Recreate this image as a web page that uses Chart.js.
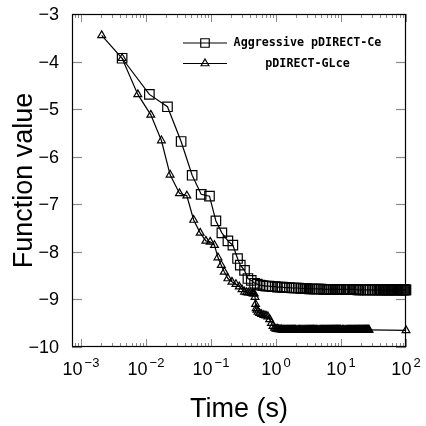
<!DOCTYPE html>
<html>
<head>
<meta charset="utf-8">
<script src="https://cdn.jsdelivr.net/npm/chart.js@4/dist/chart.umd.min.js"></script>
<style>
    html, body { margin: 0; padding: 0; background: #fff; }
    #wrap { width: 426px; height: 426px; }
</style>
</head>
<body>
<div id="wrap"><canvas id="perfChart" width="426" height="426"></canvas></div>
<script>
// Aggressive pDIRECT-Ce (squares)
const aggrTime = [
    0.00429, 0.01127, 0.0214, 0.0347, 0.0513, 0.0706, 0.0948, 0.119, 0.147, 0.182,
    0.217, 0.256, 0.282, 0.328, 0.370, 0.416, 0.468, 0.515, 0.57, 0.63,
    0.70, 0.78, 0.87, 0.97, 1.05, 1.15, 1.25, 1.35, 1.45, 1.6,
    1.75, 1.9, 2.05, 2.2, 2.4, 2.6, 2.8, 3.0, 3.25, 3.5,
    3.75, 4.0, 4.3, 4.6, 5.0, 5.4, 5.8, 6.2, 6.6, 7.0,
    7.5, 8.0, 8.5, 9.0, 9.5, 10, 11, 12, 13, 14,
    15, 16, 17, 18, 19, 20, 22, 24, 26, 28,
    30, 32, 34, 36, 38, 40, 42, 44, 46, 48,
    50, 52, 54, 56, 58, 60, 63, 66, 69, 72,
    75, 78, 81, 84, 87, 90, 93, 96, 98, 100
];
const aggrValue = [
    -3.93, -4.69, -4.95, -5.68, -6.39, -6.79, -6.83, -7.35, -7.60, -7.77,
    -7.86, -8.14, -8.28, -8.39, -8.56, -8.60, -8.66, -8.68, -8.70, -8.71,
    -8.72, -8.72, -8.73, -8.73, -8.74, -8.74, -8.74, -8.75, -8.75, -8.75,
    -8.76, -8.76, -8.76, -8.76, -8.77, -8.77, -8.77, -8.77, -8.78, -8.78,
    -8.78, -8.78, -8.78, -8.78, -8.78, -8.79, -8.79, -8.79, -8.79, -8.79,
    -8.79, -8.79, -8.79, -8.79, -8.79, -8.79, -8.79, -8.79, -8.79, -8.79,
    -8.79, -8.79, -8.79, -8.80, -8.80, -8.80, -8.80, -8.80, -8.80, -8.80,
    -8.80, -8.80, -8.80, -8.80, -8.80, -8.80, -8.80, -8.80, -8.80, -8.80,
    -8.80, -8.80, -8.80, -8.80, -8.80, -8.80, -8.80, -8.80, -8.80, -8.80,
    -8.80, -8.80, -8.80, -8.80, -8.80, -8.80, -8.80, -8.80, -8.80, -8.80
];

// pDIRECT-GLce (triangles)
const glceTime = [
    0.00208, 0.00429, 0.00748, 0.01186, 0.01727, 0.0235, 0.0327, 0.0425, 0.0541, 0.0682,
    0.0834, 0.0972, 0.113, 0.128, 0.144, 0.160, 0.182, 0.210, 0.242, 0.272,
    0.300, 0.328, 0.354, 0.378, 0.403, 0.427, 0.445, 0.463, 0.475, 0.485,
    0.495, 0.51, 0.53, 0.56, 0.60, 0.65, 0.70, 0.75, 0.80, 0.85,
    0.90, 0.95, 1.0, 1.05, 1.1, 1.15, 1.2, 1.25, 1.3, 1.35,
    1.4, 1.45, 1.5, 1.55, 1.6, 1.65, 1.7, 1.75, 1.8, 1.85,
    1.9, 1.95, 2.0, 2.1, 2.2, 2.3, 2.4, 2.5, 2.6, 2.7,
    2.8, 2.9, 3.0, 3.1, 3.2, 3.3, 3.4, 3.5, 3.6, 3.7,
    3.8, 3.9, 4.0, 4.2, 4.4, 4.6, 4.8, 5.0, 5.2, 5.4,
    5.6, 5.8, 6.0, 6.2, 6.4, 6.6, 6.8, 7.0, 7.2, 7.4,
    7.6, 7.8, 8.0, 8.2, 8.4, 8.6, 8.8, 9.0, 9.2, 9.4,
    9.6, 9.8, 10, 10.5, 11, 11.5, 12, 12.5, 13, 13.5,
    14, 14.5, 15, 15.5, 16, 16.5, 17, 17.5, 18, 18.5,
    19, 19.5, 20, 20.5, 21, 21.5, 22, 22.5, 23, 23.5,
    24, 24.5, 25, 25.5, 26, 26.5, 27, 100
];
const glceValue = [
    -3.45, -3.93, -4.69, -5.12, -5.66, -6.38, -6.77, -6.82, -7.33, -7.60,
    -7.77, -7.79, -7.86, -8.12, -8.28, -8.42, -8.56, -8.63, -8.68, -8.73,
    -8.79, -8.84, -8.85, -8.86, -8.86, -8.87, -8.88, -8.88, -8.95, -9.10,
    -9.19, -9.22, -9.26, -9.29, -9.31, -9.33, -9.34, -9.36, -9.42, -9.50,
    -9.56, -9.60, -9.62, -9.62, -9.63, -9.63, -9.63, -9.64, -9.64, -9.64,
    -9.64, -9.64, -9.64, -9.64, -9.64, -9.64, -9.64, -9.64, -9.64, -9.64,
    -9.64, -9.64, -9.64, -9.64, -9.64, -9.64, -9.64, -9.64, -9.64, -9.64,
    -9.64, -9.64, -9.64, -9.64, -9.64, -9.64, -9.64, -9.64, -9.64, -9.64,
    -9.64, -9.64, -9.64, -9.64, -9.64, -9.64, -9.64, -9.64, -9.64, -9.64,
    -9.64, -9.64, -9.64, -9.64, -9.64, -9.64, -9.64, -9.64, -9.64, -9.64,
    -9.64, -9.64, -9.64, -9.64, -9.64, -9.64, -9.64, -9.64, -9.64, -9.64,
    -9.64, -9.64, -9.64, -9.64, -9.64, -9.64, -9.64, -9.64, -9.64, -9.64,
    -9.64, -9.64, -9.64, -9.64, -9.64, -9.64, -9.64, -9.64, -9.64, -9.64,
    -9.64, -9.64, -9.64, -9.64, -9.64, -9.64, -9.64, -9.64, -9.64, -9.64,
    -9.64, -9.64, -9.64, -9.64, -9.64, -9.64, -9.64, -9.65
];

const seriesNames = ['Aggressive pDIRECT-Ce', 'pDIRECT-GLce'];
const xTickValues = [1e-3, 1e-2, 1e-1, 1e0, 1e1, 1e2];
const xTickExps = ['\u22123', '\u22122', '\u22121', '0', '1', '2'];
const yTickValues = [-3, -4, -5, -6, -7, -8, -9, -10];

(function() {
    'use strict';

    const SANS = '"Liberation Sans", Arial, sans-serif';
    const MONO = '"DejaVu Sans Mono", monospace';
    const TICK_GRAY = '#8a8a8a';

    function toPoints(xs, ys) {
        return xs.map((t, i) => ({ x: t, y: ys[i] }));
    }

    function seg(ctx, x1, y1, x2, y2) {
        ctx.beginPath();
        ctx.moveTo(x1, y1);
        ctx.lineTo(x2, y2);
        ctx.stroke();
    }

    function drawMarker(ctx, style, radius, x, y) {
        ctx.strokeStyle = '#000';
        ctx.fillStyle = 'rgba(0,0,0,0)';
        ctx.lineWidth = 1.2;
        Chart.helpers.drawPoint(ctx, { pointStyle: style, radius: radius, rotation: 0, borderWidth: 1.2 }, x, y);
    }

    const framePlugin = {
        id: 'frame',
        afterDraw(chart) {
            const { ctx, chartArea: a, scales } = chart;
            const xs = scales.x, ys = scales.y;
            ctx.save();

            // y ticks, both sides, inside
            ctx.strokeStyle = TICK_GRAY;
            ctx.lineWidth = 1.2;
            yTickValues.forEach(v => {
                const py = Math.round(ys.getPixelForValue(v)) + 0.5;
                seg(ctx, a.left, py, a.left + 10, py);
                seg(ctx, a.right - 10, py, a.right, py);
            });

            // log x ticks, top and bottom
            ctx.lineWidth = 1;
            for (let k = -4; k <= 2; k++) {
                for (let m = 1; m <= 9; m++) {
                    const v = m * Math.pow(10, k);
                    if (v < xs.min * 0.999 || v > xs.max * 1.001) continue;
                    const px = Math.round(xs.getPixelForValue(v)) + 0.5;
                    const len = m === 1 ? 8 : 4;
                    seg(ctx, px, a.bottom, px, a.bottom - len);
                    seg(ctx, px, a.top, px, a.top + len);
                }
            }

            // frame
            ctx.strokeStyle = '#000';
            ctx.lineWidth = 1.2;
            ctx.strokeRect(a.left + 0.5, a.top + 0.5, a.right - a.left - 1, a.bottom - a.top - 1);

            // y tick labels
            ctx.fillStyle = '#000';
            ctx.font = '18px ' + SANS;
            ctx.textAlign = 'right';
            ctx.textBaseline = 'middle';
            yTickValues.forEach(v => {
                ctx.fillText('\u2212' + Math.abs(v), 59, ys.getPixelForValue(v) + 1);
            });

            // x tick labels: 10 with superscript
            ctx.textAlign = 'left';
            ctx.textBaseline = 'alphabetic';
            xTickValues.forEach((v, i) => {
                ctx.font = '18px ' + SANS;
                const w1 = ctx.measureText('10').width;
                ctx.font = '13px ' + SANS;
                const w2 = ctx.measureText(xTickExps[i]).width;
                const start = xs.getPixelForValue(v) - (w1 + 2 + w2) / 2;
                ctx.font = '18px ' + SANS;
                ctx.fillText('10', start, 375);
                ctx.font = '13px ' + SANS;
                ctx.fillText(xTickExps[i], start + w1 + 2, 367);
            });

            // axis titles
            ctx.font = '27px ' + SANS;
            ctx.textAlign = 'center';
            ctx.fillText('Time (s)', (a.left + a.right) / 2, 417);
            ctx.save();
            ctx.translate(32, (a.top + a.bottom) / 2);
            ctx.rotate(-Math.PI / 2);
            ctx.fillText('Function value', 0, 0);
            ctx.restore();

            // legend
            const rows = [
                { y: 43, style: 'rect', r: 6, label: seriesNames[0] },
                { y: 63.5, style: 'triangle', r: 4.5, label: seriesNames[1] }
            ];
            rows.forEach(row => {
                ctx.strokeStyle = '#000';
                ctx.lineWidth = 1.2;
                seg(ctx, 183, row.y, 227, row.y);
                drawMarker(ctx, row.style, row.r, 205, row.y);
                ctx.fillStyle = '#000';
                ctx.font = 'bold 11.7px ' + MONO;
                ctx.textAlign = 'center';
                ctx.textBaseline = 'middle';
                ctx.fillText(row.label, 307.5, row.y);
            });

            ctx.restore();
        }
    };

    function seriesStyle(style, radius) {
        return {
            showLine: true,
            borderColor: '#000',
            borderWidth: 1.2,
            backgroundColor: 'rgba(0,0,0,0)',
            pointStyle: style,
            pointRadius: radius,
            pointBorderWidth: 1.2,
            pointBorderColor: '#000',
            pointBackgroundColor: 'rgba(0,0,0,0)',
            tension: 0,
            clip: false
        };
    }

    const ctx = document.getElementById('perfChart');
    new Chart(ctx, {
        type: 'scatter',
        data: {
            datasets: [
                Object.assign({ label: seriesNames[0], data: toPoints(aggrTime, aggrValue) }, seriesStyle('rect', 6.7)),
                Object.assign({ label: seriesNames[1], data: toPoints(glceTime, glceValue) }, seriesStyle('triangle', 4.5))
            ]
        },
        options: {
            responsive: false,
            animation: false,
            events: [],
            layout: { padding: { left: 72, right: 20, top: 14, bottom: 79 } },
            plugins: {
                legend: { display: false },
                tooltip: { enabled: false }
            },
            scales: {
                x: { type: 'logarithmic', min: 7.27e-4, max: 100, display: false },
                y: { type: 'linear', min: -10, max: -3, display: false }
            }
        },
        plugins: [framePlugin]
    });
})();
</script>
</body>
</html>
